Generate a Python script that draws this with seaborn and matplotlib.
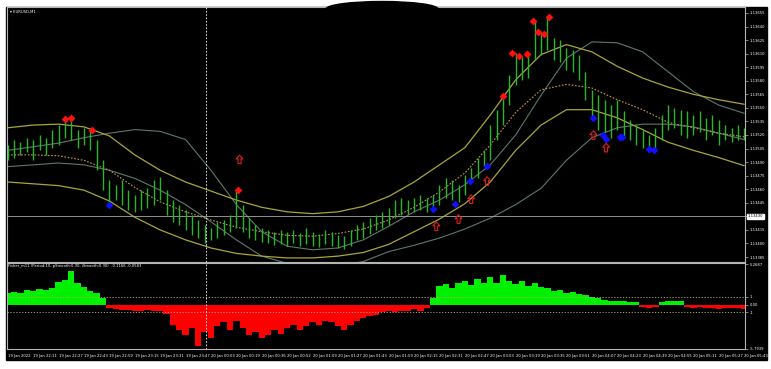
import numpy as np
import matplotlib
matplotlib.use("Agg")
import matplotlib.pyplot as plt
import matplotlib.patches as mpatches
import matplotlib.transforms as mtrans
from matplotlib import font_manager
from matplotlib.path import Path
import seaborn as sns

# time axis: one label every 16 one-minute bars
TIME_LABELS = [
    "19 Jan 2022", "19 Jan 22:11", "19 Jan 22:27", "19 Jan 22:43", "19 Jan 22:59",
    "19 Jan 23:15", "19 Jan 23:31", "19 Jan 23:47", "20 Jan 00:03", "20 Jan 00:19",
    "20 Jan 00:36", "20 Jan 00:52", "20 Jan 01:09", "20 Jan 01:27", "20 Jan 01:43",
    "20 Jan 01:59", "20 Jan 02:15", "20 Jan 02:31", "20 Jan 02:47", "20 Jan 03:03",
    "20 Jan 03:19", "20 Jan 03:35", "20 Jan 03:51", "20 Jan 04:07", "20 Jan 04:23",
    "20 Jan 04:39", "20 Jan 04:55", "20 Jan 05:11", "20 Jan 05:27", "20 Jan 05:43",
]
LABEL_STEP = 16
BAR_STEP = 4

# price bars, in points above 1.13000 (one bar per 4 minutes)
HIGH_PTS = [509, 515, 512, 517, 515, 520, 517, 526, 531, 537, 537, 526, 528, 526, 515, 492,
            470, 465, 470, 459, 454, 459, 461, 470, 474, 459, 448, 443, 437, 432, 426, 420,
            417, 424, 426, 432, 459, 443, 428, 420, 417, 415, 413, 415, 413, 415, 412, 417,
            413, 411, 415, 413, 409, 408, 415, 420, 424, 428, 432, 435, 439, 448, 450, 448,
            450, 454, 450, 454, 465, 472, 470, 465, 476, 484, 495, 503, 531, 548, 562, 586,
            611, 606, 609, 647, 634, 650, 627, 625, 616, 614, 609, 590, 570, 564, 559, 553,
            559, 546, 537, 531, 526, 520, 528, 542, 553, 550, 548, 546, 542, 546, 539, 542,
            537, 531, 528, 531, 528]
LOW_PTS = [492, 495, 498, 501, 492, 503, 498, 506, 509, 517, 515, 506, 509, 503, 481, 459,
           443, 448, 443, 437, 435, 437, 439, 443, 448, 432, 424, 420, 415, 409, 406, 401,
           404, 406, 409, 413, 417, 413, 406, 404, 402, 401, 398, 399, 397, 401, 397, 399,
           397, 396, 399, 397, 395, 394, 397, 404, 406, 411, 415, 417, 420, 428, 432, 433,
           435, 437, 435, 437, 443, 450, 448, 446, 454, 468, 472, 486, 492, 515, 531, 553,
           575, 581, 583, 603, 609, 614, 603, 601, 592, 590, 581, 559, 539, 526, 523, 517,
           526, 517, 515, 509, 506, 501, 503, 515, 526, 528, 520, 517, 520, 523, 515, 520,
           509, 515, 512, 515, 515]

# envelope lines, sampled at every time label
BAND_UP = [528, 531, 532, 529, 519, 498, 481, 468, 458, 448, 440, 435, 433, 435, 441,
           452, 468, 487, 506, 542, 581, 609, 620, 612, 596, 583, 573, 565, 559, 554]
BAND_MID = [498, 498, 497, 492, 481, 462, 446, 435, 426, 418, 413, 409, 408, 411, 416,
            426, 440, 457, 478, 509, 545, 570, 576, 572, 559, 548, 534, 528, 522, 518]
BAND_LOW = [468, 466, 464, 459, 447, 429, 415, 404, 395, 389, 386, 384, 384, 386, 390,
            399, 413, 427, 444, 468, 503, 531, 548, 548, 539, 526, 512, 503, 495, 486]
SLOW_UP = [503, 507, 511, 517, 522, 526, 524, 515, 481, 443, 413, 397, 393, 395, 404,
           419, 435, 448, 465, 487, 520, 564, 605, 623, 622, 612, 590, 568, 553, 544]
SLOW_LOW = [485, 487, 489, 487, 481, 472, 459, 443, 424, 404, 386, 378, 375, 375, 380,
            391, 398, 406, 416, 428, 443, 461, 492, 517, 528, 532, 532, 529, 522, 515]

# signals (minute index, points)
SELL_IDX = [36, 40, 53, 145, 312, 318, 322, 327, 331, 334, 338, 341]
SELL_PTS = [538, 539, 526, 459, 563, 611, 607, 610, 646, 634, 632, 650]
BUY_IDX = [64, 268, 282, 291, 302, 369, 375, 377, 386, 387, 404, 407]
BUY_PTS = [443, 438, 444, 469, 486, 539, 520, 516, 518, 518, 505, 503]
ARROW_IDX = [146, 270, 284, 292, 302, 369, 377]
ARROW_PTS = [493, 419, 427, 449, 469, 520, 506]

# Fisher oscillator, one value per price bar
FISHER = [1.5, 1.6, 1.5, 1.9, 1.8, 2.0, 1.9, 2.2, 3.0, 3.2, 4.4, 2.8, 2.3, 1.8, 1.5, 0.8,
          -0.4, -0.6, -0.7, -0.7, -0.8, -0.8, -0.7, -0.9, -0.8, -1.2, -2.7, -3.3, -4.0, -3.1,
          -5.4, -3.6, -4.4, -2.8, -2.3, -3.3, -2.1, -3.1, -4.0, -3.6, -4.4, -4.0, -3.3, -3.8,
          -3.1, -2.7, -3.3, -2.8, -2.3, -2.7, -2.1, -2.3, -2.8, -3.3, -2.6, -2.1, -1.8, -1.5,
          -1.3, -1.0, -0.9, -1.0, -0.8, -0.8, -0.6, -0.8, -0.5, 0.8, 2.4, 2.7, 2.1, 2.8, 3.1,
          2.6, 3.3, 2.8, 3.6, 2.8, 3.8, 3.1, 2.7, 3.1, 2.4, 2.8, 2.3, 2.1, 1.8, 1.9, 1.5, 1.7,
          1.4, 1.2, 1.0, 0.8, 0.6, 0.5, 0.5, 0.4, 0.3, 0.3, -0.3, -0.4, -0.3, 0.3, 0.4, 0.5,
          0.4, -0.3, -0.4, -0.3, -0.4, -0.5, -0.6, -0.5, -0.4, -0.5, -0.6]

PRICE_TICKS = [1.13655, 1.13640, 1.13625, 1.13610, 1.13595, 1.13580, 1.13565, 1.13550,
               1.13535, 1.13520, 1.13505, 1.13490, 1.13475, 1.13460, 1.13445, 1.13430,
               1.13415, 1.13400, 1.13385]
BID = 1.13430
CURSOR_IDX = 125
FISHER_LEVELS = [1.0, -1.0]
FISHER_LIMITS = [-5.7939, 5.2687]


def pts(values):
    return 1.13 + np.asarray(values) / 1e5


sns.set_theme(style="dark")
names = {f.name for f in font_manager.fontManager.ttflist}
if "Liberation Sans Narrow" in names:
    FAMILY, FS = ["Liberation Sans Narrow", "DejaVu Sans"], 3.4
else:
    FAMILY, FS = ["DejaVu Sans"], 2.7
plt.rcParams.update({
    "font.family": FAMILY,
    "axes.facecolor": "black",
    "axes.edgecolor": "#b4b4b4",
    "axes.linewidth": 0.8,
    "figure.dpi": 100,
})

# hollow up-arrow marker
ARROW = Path([(-0.35, 0.1), (-0.8, 0.1), (0.0, 1.0), (0.8, 0.1), (0.35, 0.1),
              (0.35, -1.0), (-0.35, -1.0), (-0.35, 0.1)], closed=True)

W, H = 771, 369
fig = plt.figure(figsize=(W / 100, H / 100), dpi=100, facecolor="white")
fig.patches.append(mpatches.Rectangle((6 / W, 1 - 360 / H), 761 / W, 353 / H,
                                      transform=fig.transFigure, color="black", zorder=-10))
# scribbled-out caption at the top of the screenshot
fig.patches.append(mpatches.Ellipse((382 / W, 1 - 9 / H), 112 / W, 15 / H,
                                    transform=fig.transFigure, color="black", zorder=5))

ax = fig.add_axes([7 / W, 1 - 262 / H, 738 / W, 255 / H])
ax2 = fig.add_axes([7 / W, 1 - 349 / H, 738 / W, 86 / H])
xmax = (len(TIME_LABELS) - 1) * LABEL_STEP
for a in (ax, ax2):
    a.set_xlim(-0.5, xmax + 0.5)
    a.grid(False)
    a.set_zorder(1)

bar_x = np.arange(len(HIGH_PTS)) * BAR_STEP
knot_x = np.arange(len(TIME_LABELS)) * LABEL_STEP

# envelopes
slow_col, band_col = "#5b7a6c", "#a9a637"
sns.lineplot(x=knot_x, y=pts(SLOW_UP), ax=ax, color=slow_col, lw=0.8)
sns.lineplot(x=knot_x, y=pts(SLOW_LOW), ax=ax, color=slow_col, lw=0.8)
sns.lineplot(x=knot_x, y=pts(BAND_UP), ax=ax, color=band_col, lw=0.9)
sns.lineplot(x=knot_x, y=pts(BAND_LOW), ax=ax, color=band_col, lw=0.9)
sns.lineplot(x=knot_x, y=pts(BAND_MID), ax=ax, color="#c89a3c", lw=0.8, linestyle=(0, (1.5, 1.5)))

# price bars
ax.vlines(bar_x, pts(LOW_PTS), pts(HIGH_PTS), color="#27b827", lw=1.0, zorder=3)

ax.axhline(BID, color="#a8a8a8", lw=0.6, zorder=2)
ax.axvline(CURSOR_IDX, color="white", lw=0.6, ls=(0, (2, 2)), zorder=4)

# signals
ax.scatter(SELL_IDX, pts(SELL_PTS), marker="D", s=16, color="#ff1010", zorder=5, linewidths=0)
ax.scatter(BUY_IDX, pts(BUY_PTS), marker="D", s=16, color="#1010ff", zorder=5, linewidths=0)
ax.scatter(ARROW_IDX, pts(ARROW_PTS), marker=ARROW, s=38, facecolors="none",
           edgecolors="#e02020", linewidths=0.8, zorder=5)

ax.set_ylim(pts(379.5), pts(661.6))
ax.set_xticks([])
ax.yaxis.tick_right()
ax.set_yticks(PRICE_TICKS)
ax.set_yticklabels(["" if abs(p - BID) < 1e-7 else f"{p:.5f}" for p in PRICE_TICKS])
ax.tick_params(axis="y", colors="#b4b4b4", labelcolor="white", labelsize=FS,
               length=2, width=0.5, pad=1.5)
ax.set_ylabel("")
ax.text(0.004, 0.988, "\u25be EURUSD,M1", transform=ax.transAxes, color="white",
        fontsize=FS, va="top", ha="left", family=FAMILY + ["DejaVu Sans"])
trans = mtrans.blended_transform_factory(ax.transAxes, ax.transData)
ax.text(1.004, BID, f"{BID:.5f}", transform=trans, fontsize=FS, color="black",
        va="center", ha="left",
        bbox=dict(boxstyle="square,pad=0.15", fc="white", ec="white"))

# Fisher histogram
fisher = np.asarray(FISHER)
colors = np.where(fisher >= 0, "#00f000", "#ff0000")
ax2.bar(bar_x, fisher, width=BAR_STEP, color=colors, linewidth=0, zorder=2)
for lv in FISHER_LEVELS:
    ax2.axhline(lv, color="#b8b070", lw=0.6, ls=(0, (1.5, 2)), zorder=3)
ax2.axvline(CURSOR_IDX, color="white", lw=0.6, ls=(0, (2, 2)), zorder=4)
ax2.set_ylim(FISHER_LIMITS[0], FISHER_LIMITS[1] + 0.15)
ax2.yaxis.tick_right()
ax2.set_yticks([FISHER_LIMITS[1], 1.0, 0.0, -1.0, FISHER_LIMITS[0]])
ax2.set_yticklabels([f"{FISHER_LIMITS[1]:.4f}", "1", "0.00", "-1", f"{FISHER_LIMITS[0]:.4f}"])
ax2.tick_params(axis="y", colors="#b4b4b4", labelcolor="white", labelsize=FS,
                length=2, width=0.5, pad=1.5)
ax2.set_xticks(knot_x)
ax2.set_xticklabels(TIME_LABELS, ha="left")
ax2.tick_params(axis="x", colors="#b4b4b4", labelcolor="white", labelsize=FS,
                length=2, width=0.5, pad=1.5)
ax2.text(0.002, 0.985, "Fisher_m11 (Period:10, pSmooth:0.30, iSmooth:0.30)  -0.1166 -0.0583",
         transform=ax2.transAxes, color="white", fontsize=FS, va="top", ha="left")

fig.savefig("out.png", dpi=100, facecolor="white")
